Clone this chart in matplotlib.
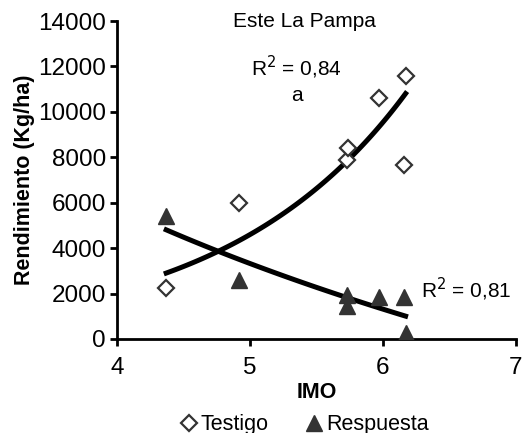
import numpy as np
import matplotlib.pyplot as plt

plt.rcParams['font.family'] = ['Liberation Sans', 'DejaVu Sans']

# IMO values and yields (kg/ha)
imo_testigo = [4.37, 4.92, 5.73, 5.74, 5.97, 6.17, 6.16]
rend_testigo = [2250, 6000, 7900, 8400, 10600, 11600, 7650]

imo_respuesta = [4.37, 4.92, 5.73, 5.73, 5.97, 6.16, 6.17]
rend_respuesta = [5400, 2600, 1950, 1450, 1850, 1850, 250]

fig = plt.figure(figsize=(5.23, 4.33), dpi=100)
ax = fig.add_axes([0.2237, 0.2171, 0.7629, 0.7344])

# exponential trend for Testigo
xt = np.array(imo_testigo)
b, ln_a = np.polyfit(xt, np.log(rend_testigo), 1)
xx = np.linspace(xt.min(), xt.max(), 100)
ax.plot(xx, np.exp(ln_a + b * xx), color='black', lw=3.6, zorder=2)

# logarithmic trend for Respuesta
xr = np.array(imo_respuesta)
m, c = np.polyfit(np.log(xr), rend_respuesta, 1)
xx = np.linspace(xr.min(), xr.max(), 100)
ax.plot(xx, c + m * np.log(xx), color='black', lw=3.6, zorder=2)

ax.plot(imo_testigo, rend_testigo, 'D', ms=8, mfc='white', mec='#333333',
        mew=1.6, ls='none', label='Testigo', zorder=3)
ax.plot(imo_respuesta, rend_respuesta, '^', ms=12, color='#333333',
        ls='none', label='Respuesta', zorder=3)

ax.set_xlim(4, 7)
ax.set_ylim(0, 14000)
ax.set_xticks([4, 5, 6, 7])
ax.set_yticks(range(0, 14001, 2000))
for s in ['top', 'right']:
    ax.spines[s].set_visible(False)
for s in ['left', 'bottom']:
    ax.spines[s].set_linewidth(2)
ax.tick_params(width=2, length=5, labelsize=17.5)
ax.tick_params(axis='y', pad=3)
ax.tick_params(axis='x', pad=8)

ax.set_xlabel('IMO', fontsize=15.5, fontweight='bold', labelpad=2)
ax.set_ylabel('Rendimiento (Kg/ha)', fontsize=15.5, fontweight='bold', labelpad=2)

ax.text(5.41, 14000, 'Este La Pampa', fontsize=15, ha='center', va='center')
ax.text(5.35, 11950, 'R$^2$ = 0,84', fontsize=15, ha='center', va='center')
ax.text(5.35, 10700, 'a', fontsize=15, ha='center', va='center')
ax.text(6.63, 2200, 'R$^2$ = 0,81', fontsize=15, ha='center', va='center')

ax.legend(loc='upper center', bbox_to_anchor=(0.467, -0.19), ncol=2,
          frameon=False, fontsize=15.5, handletextpad=0.05, columnspacing=1.6,
          handlelength=1.0, borderpad=0.2)

fig.savefig('out.png', dpi=100)
